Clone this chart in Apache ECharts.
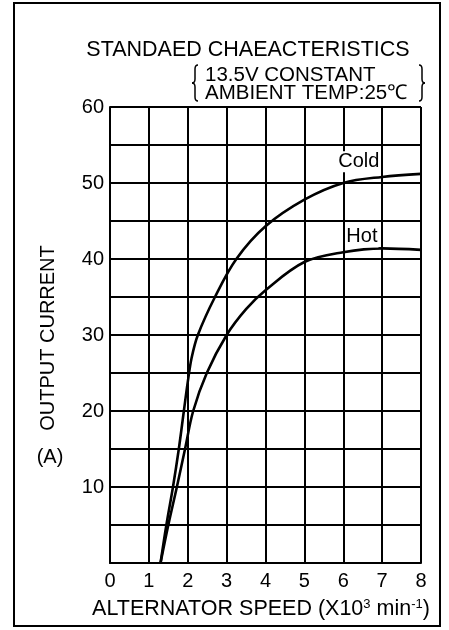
<!DOCTYPE html>
<html>
<head>
<meta charset="utf-8">
<script src="https://cdn.jsdelivr.net/npm/echarts@6/dist/echarts.min.js"></script>
<style>
  html, body { margin: 0; padding: 0; background: #fff; }
  #chart { width: 449px; height: 630px; }
</style>
</head>
<body>
<div id="chart"></div>
<script>
// Alternator output current vs. speed (13.5 V constant, ambient 25 °C)
const speedRange = [0, 8];
const currentRange = [0, 60];
const seriesNames = ['Cold', 'Hot'];
const coldSpeed   = [1.3, 1.45, 1.62, 1.77, 1.9, 2.0, 2.1, 2.26, 2.7, 3.25, 4.0, 5.0, 6.0, 7.0, 8.0];
const coldCurrent = [0,   5,    10,   15,   20,  23.8, 27, 30,   35,  40,   44.3, 47.8, 50, 50.8, 51.2];
const hotSpeed    = [1.3, 1.5, 1.72, 1.93, 2.14, 2.49, 3.0, 3.5, 4.0, 5.0, 6.0, 7.0, 8.0];
const hotCurrent  = [0,   5,   10,   15,   20,   25,   30,  33.4, 35.9, 39.6, 40.9, 41.4, 41.2];

const FONT = '"Liberation Sans", Arial, Helvetica, sans-serif';
const pairs = (xs, ys) => xs.map((x, i) => [x, ys[i]]);

const chart = echarts.init(document.getElementById('chart'), null, { renderer: 'canvas' });

function curveLabel(name, coord) {
  return {
    symbol: 'rect',
    symbolSize: 0,
    data: [{ coord: coord, value: name }],
    label: {
      show: true,
      position: 'inside',
      formatter: name,
      color: '#000',
      fontFamily: FONT,
      fontSize: 20,
      backgroundColor: '#fff',
      padding: [1, 1, 0, 1]
    }
  };
}

function brace(x, dir) {
  // dir = 1 for an opening brace, -1 for a closing one
  const arm = x + 5 * dir, stem = x + 2 * dir, tip = x - 1 * dir;
  const top = 65, mid = 83, bot = 101;
  const st = { stroke: '#000', lineWidth: 1.5, fill: null };
  return [
    { type: 'bezierCurve', shape: { x1: arm, y1: top, x2: stem, y2: top + 4, cpx1: stem, cpy1: top }, style: st },
    { type: 'line', shape: { x1: stem, y1: top + 4, x2: stem, y2: mid - 4 }, style: st },
    { type: 'bezierCurve', shape: { x1: stem, y1: mid - 4, x2: tip, y2: mid, cpx1: stem, cpy1: mid }, style: st },
    { type: 'bezierCurve', shape: { x1: tip, y1: mid, x2: stem, y2: mid + 4, cpx1: stem, cpy1: mid }, style: st },
    { type: 'line', shape: { x1: stem, y1: mid + 4, x2: stem, y2: bot - 4 }, style: st },
    { type: 'bezierCurve', shape: { x1: stem, y1: bot - 4, x2: arm, y2: bot, cpx1: stem, cpy1: bot }, style: st }
  ];
}

const option = {
  backgroundColor: '#fff',
  animation: false,
  grid: { left: 110, right: 28, top: 107, bottom: 67, containLabel: false },
  xAxis: {
    type: 'value',
    min: speedRange[0], max: speedRange[1], interval: 1,
    axisLine: { show: true, lineStyle: { color: '#000', width: 2 } },
    axisTick: { show: false },
    splitLine: { show: true, lineStyle: { color: '#000', width: 2 } },
    axisLabel: { color: '#000', fontFamily: FONT, fontSize: 20, margin: 8, showMinLabel: true, showMaxLabel: true }
  },
  yAxis: {
    type: 'value',
    min: currentRange[0], max: currentRange[1], interval: 5,
    axisLine: { show: true, lineStyle: { color: '#000', width: 2 } },
    axisTick: { show: false },
    splitLine: { show: true, lineStyle: { color: '#000', width: 2 } },
    axisLabel: {
      color: '#000', fontFamily: FONT, fontSize: 20, margin: 6,
      formatter: v => (v % 10 === 0 && v !== 0) ? String(v) : ''
    }
  },
  series: [
    {
      name: seriesNames[0], type: 'line', smooth: 0.35, showSymbol: false,
      data: pairs(coldSpeed, coldCurrent),
      lineStyle: { color: '#000', width: 2.6 },
      markPoint: curveLabel(seriesNames[0], [6.4, 52.8]),
      z: 3
    },
    {
      name: seriesNames[1], type: 'line', smooth: 0.35, showSymbol: false,
      data: pairs(hotSpeed, hotCurrent),
      lineStyle: { color: '#000', width: 2.6 },
      markPoint: curveLabel(seriesNames[1], [6.48, 42.9]),
      z: 3
    }
  ],
  graphic: [
    { type: 'rect', shape: { x: 14, y: 3, width: 426, height: 623 }, style: { fill: null, stroke: '#000', lineWidth: 2 }, z: 10 },
    { type: 'text', x: 248, y: 50, style: { text: 'STANDAED CHAEACTERISTICS', font: '21.5px ' + FONT, fill: '#000', textAlign: 'center', textVerticalAlign: 'middle' } },
    { type: 'text', x: 205, y: 75, style: { text: '13.5V CONSTANT', font: '20.5px ' + FONT, fill: '#000', textAlign: 'left', textVerticalAlign: 'middle' } },
    { type: 'text', x: 205, y: 93, style: { text: 'AMBIENT TEMP:25℃', font: '20.5px ' + FONT, fill: '#000', textAlign: 'left', textVerticalAlign: 'middle' } },
    ...brace(193, 1),
    ...brace(424, -1),
    { type: 'text', x: 48, y: 338, rotation: Math.PI / 2, style: { text: 'OUTPUT CURRENT', font: '20px ' + FONT, fill: '#000', textAlign: 'center', textVerticalAlign: 'middle' } },
    { type: 'text', x: 50, y: 457, style: { text: '(A)', font: '20px ' + FONT, fill: '#000', textAlign: 'center', textVerticalAlign: 'middle' } },
    {
      type: 'text', x: 261, y: 609,
      style: {
        text: '{b|ALTERNATOR SPEED (X10}{s|3}{b| min}{s|-1}{b|)}',
        textAlign: 'center', textVerticalAlign: 'middle', fill: '#000',
        rich: {
          b: { fontFamily: FONT, fontSize: 21.5, color: '#000' },
          s: { fontFamily: FONT, fontSize: 13, color: '#000', verticalAlign: 'top', padding: [0, 0, 8, 0] }
        }
      }
    }
  ]
};

chart.setOption(option);
</script>
</body>
</html>
